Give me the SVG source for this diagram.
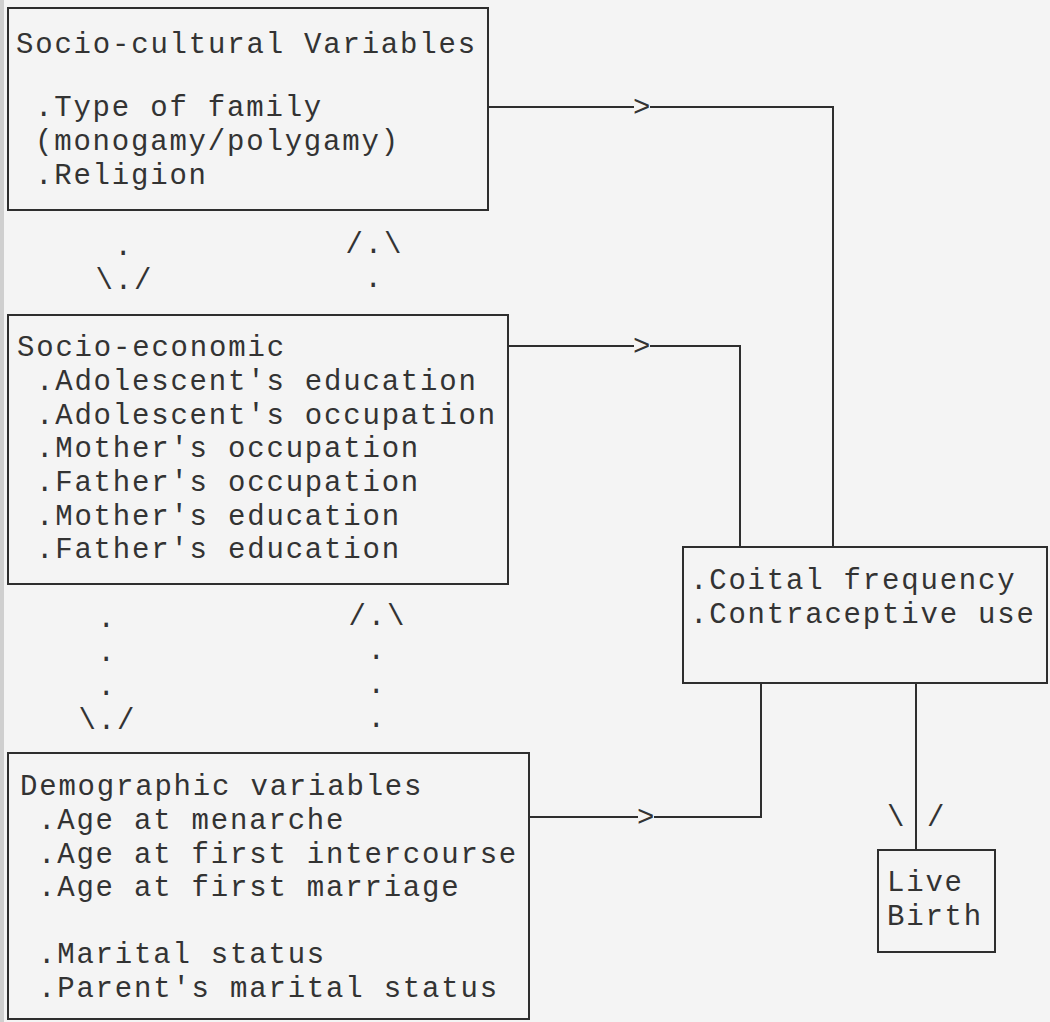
<svg xmlns="http://www.w3.org/2000/svg" width="1050" height="1022" viewBox="0 0 1050 1022">
  <style>
    .t { font-family: "Liberation Mono", "Courier New", monospace; font-size: 29px; letter-spacing: 1.8px; fill: #333; }
    .box { fill: none; stroke: #2e2e2e; stroke-width: 2; }
    .ln { fill: none; stroke: #2e2e2e; stroke-width: 2; }
  </style>
  <rect x="0" y="0" width="1050" height="1022" fill="#f4f4f4"/>
  <rect x="0" y="0" width="4" height="1022" fill="#cfcfcf"/>

  <g id="node-sociocultural">
    <rect class="box" x="8" y="8" width="480" height="202"/>
    <text class="t">
      <tspan x="16" y="53">Socio-cultural Variables</tspan>
      <tspan x="35" y="116">.Type of family</tspan>
      <tspan x="35" y="150">(monogamy/polygamy)</tspan>
      <tspan x="35" y="184">.Religion</tspan>
    </text>
  </g>

  <g id="node-socioeconomic">
    <rect class="box" x="8" y="315" width="500" height="269"/>
    <text class="t">
      <tspan x="17" y="356">Socio-economic</tspan>
      <tspan x="36" y="390">.Adolescent's education</tspan>
      <tspan x="36" y="423.5">.Adolescent's occupation</tspan>
      <tspan x="36" y="457">.Mother's occupation</tspan>
      <tspan x="36" y="491">.Father's occupation</tspan>
      <tspan x="36" y="524.5">.Mother's education</tspan>
      <tspan x="36" y="558">.Father's education</tspan>
    </text>
  </g>

  <g id="node-demographic">
    <rect class="box" x="8" y="753" width="521" height="266"/>
    <text class="t">
      <tspan x="20" y="795">Demographic variables</tspan>
      <tspan x="38" y="829">.Age at menarche</tspan>
      <tspan x="38" y="862.5">.Age at first intercourse</tspan>
      <tspan x="38" y="896">.Age at first marriage</tspan>
      <tspan x="38" y="963">.Marital status</tspan>
      <tspan x="38" y="997">.Parent's marital status</tspan>
    </text>
  </g>

  <g id="node-proximate">
    <rect class="box" x="683" y="547" width="364" height="136"/>
    <text class="t">
      <tspan x="690" y="589">.Coital frequency</tspan>
      <tspan x="690" y="623">.Contraceptive use</tspan>
    </text>
  </g>

  <g id="node-livebirth">
    <rect class="box" x="878" y="850" width="117" height="102"/>
    <text class="t">
      <tspan x="887" y="891">Live</tspan>
      <tspan x="887" y="925">Birth</tspan>
    </text>
  </g>

  <g id="connectors">
    <path class="ln" d="M488,107 H634 M650,107 H833 V547"/>
    <text class="t" x="633" y="116">&gt;</text>
    <path class="ln" d="M508,346 H634 M650,346 H740 V547"/>
    <text class="t" x="633" y="355">&gt;</text>
    <path class="ln" d="M529,817 H638 M654,817 H761 V683"/>
    <text class="t" x="637" y="826">&gt;</text>
    <path class="ln" d="M916,683 V850"/>
    <text class="t"><tspan x="887" y="826">\</tspan><tspan x="927" y="826">/</tspan></text>

    <text class="t">
      <tspan x="114.5" y="255">.</tspan>
      <tspan x="95.5" y="289">\./</tspan>
    </text>
    <text class="t">
      <tspan x="345.5" y="253">/.\</tspan>
      <tspan x="364.5" y="287">.</tspan>
    </text>

    <text class="t">
      <tspan x="97.5" y="627">.</tspan>
      <tspan x="97.5" y="661">.</tspan>
      <tspan x="97.5" y="695">.</tspan>
      <tspan x="78.5" y="729">\./</tspan>
    </text>
    <text class="t">
      <tspan x="348.5" y="625">/.\</tspan>
      <tspan x="367.5" y="659">.</tspan>
      <tspan x="367.5" y="693">.</tspan>
      <tspan x="367.5" y="727">.</tspan>
    </text>
  </g>
</svg>
